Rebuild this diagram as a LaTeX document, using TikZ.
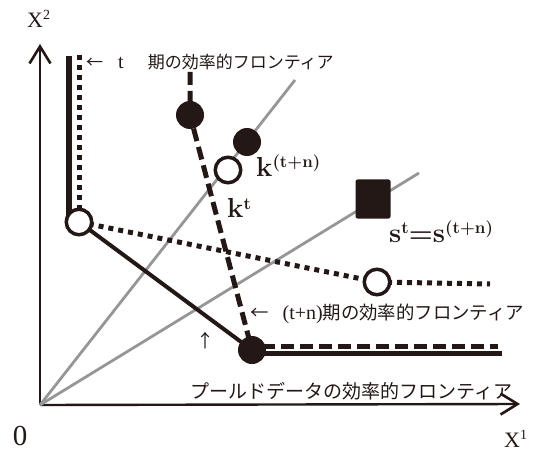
\documentclass[tikz,border=0pt]{standalone}
\usepackage{fontspec}
\newfontfamily\cjk{Noto Sans CJK JP}
\newfontfamily\lat{Liberation Serif}
\usetikzlibrary{arrows.meta}
\definecolor{ink}{RGB}{35,24,21}
\definecolor{raygray}{RGB}{150,150,150}
% bold letter with a raised index
\newcommand{\blab}[2]{{\fontsize{27.5}{27.5}\selectfont\bfseries #1}\raisebox{9pt}{\fontsize{17}{17}\selectfont\bfseries #2}}
\tikzset{
  axis/.style={draw=ink, line width=2.4pt, -{Straight Barb[length=17pt,width=21pt,line width=2.6pt]}},
  ray/.style={draw=raygray, line width=2.8pt},
  solidfront/.style={draw=ink, line width=4pt},
  barfront/.style={draw=ink, line width=6pt},
  dotfront/.style={draw=ink, line width=5pt, dash pattern=on 5pt off 5pt},
  dashfront/.style={draw=ink, line width=5pt, dash pattern=on 13pt off 6pt},
  opendot/.style={circle, draw=ink, line width=3.5pt, fill=white, minimum size=25.5pt, inner sep=0pt},
  filldot/.style={circle, fill=ink, minimum size=28pt, inner sep=0pt},
  fillsq/.style={rectangle, fill=ink, rounded corners=2pt, minimum width=35pt, minimum height=39pt, inner sep=0pt},
  lab/.style={inner sep=0pt, text=ink},
  jlab/.style={inner sep=0pt, text=ink, anchor=west},
}
\begin{document}
\begin{tikzpicture}[x=1pt,y=-1pt]
\useasboundingbox (0,0) rectangle (537,454);

% axes
\coordinate (O) at (40,405);
\coordinate (ytip) at (40,44);
\coordinate (xtip) at (520,404);
\draw[axis] (O) -- (ytip);
\draw[axis] (O) -- (xtip);

% rays from the origin
\coordinate (r1) at (295,80);
\coordinate (r2) at (419,173);
\draw[ray] (O) -- (r1);
\draw[ray] (O) -- (r2);

% observation points
\coordinate (At) at (79,222);
\coordinate (Bt) at (252,350);
\coordinate (Ct) at (377,282);
\coordinate (Kt) at (190,115);

% frontier of period t
\coordinate (bartop) at (69,56);
\coordinate (barbot) at (69,216);
\draw[barfront] (bartop) -- (barbot);
\coordinate (dvtop) at (79,55);
\draw[dotfront] (dvtop) -- (At);
\draw[dotfront] (At) -- (Ct);
\coordinate (dhend) at (490,284);
\draw[dotfront] (Ct) -- (dhend);

% pooled frontier
\draw[solidfront] (At) -- (Bt);
\coordinate (shend) at (502,353);
\coordinate (shstart) at (252,353);
\draw[draw=ink, line width=5pt] (shstart) -- (shend);

% frontier of period t+n
\coordinate (dktop) at (190,72);
\draw[dashfront] (dktop) -- (Kt) -- (Bt);
\coordinate (dhstart) at (262,346);
\coordinate (dhend2) at (498,346);
\draw[dashfront] (dhstart) -- (dhend2);

% markers
\node[opendot] (A) at (At) {};
\node[filldot] (B) at (Bt) {};
\node[opendot] (C) at (Ct) {};
\node[filldot] (K) at (Kt) {};
\node[filldot] (Ktn) at (247,142) {};
\node[opendot] (Kto) at (228,170) {};
\node[fillsq] (S) at (373,199) {};

% point labels
\node[lab, anchor=base west] (lktn) at (256,177) {\blab{k}{(t+n)}};
\node[lab, anchor=base west] (lkt) at (227,218) {\blab{k}{t}};
\node[lab, anchor=base west] (ls) at (389,242) {\blab{s}{t}{\fontsize{27.5}{27.5}\selectfont\bfseries =}\blab{s}{(t+n)}};

% axis labels
\node[lab, anchor=base west] (lx2) at (27,28) {\lat\fontsize{22}{22}\selectfont X\raisebox{8pt}{\fontsize{14}{14}\selectfont 2}};
\node[lab, anchor=base west] (lx1) at (504,447) {\lat\fontsize{22}{22}\selectfont X\raisebox{8pt}{\fontsize{14}{14}\selectfont 1}};
\node[lab] (l0) at (20,436) {\lat\fontsize{29}{29}\selectfont 0};

% frontier labels
\node[jlab] (lt) at (86,62) {\fontsize{17}{17}\selectfont{\cjk ←}\hspace{15pt}{\lat\fontsize{20}{20}\selectfont t}\hspace{24pt}{\cjk 期の効率的フロンティア}};
\node[jlab] (ltn) at (250,314) {\fontsize{18.4}{18.4}\selectfont{\cjk ←}\hspace{14pt}{\lat\fontsize{20}{20}\selectfont (t+n)}{\cjk 期の効率的フロンティア}};
\node[jlab] (lp) at (190,391) {\fontsize{19}{19}\selectfont\cjk プールドデータの効率的フロンティア};
\node[lab] (lup) at (205,341) {\fontsize{18}{18}\selectfont\cjk ↑};
\end{tikzpicture}
\end{document}
